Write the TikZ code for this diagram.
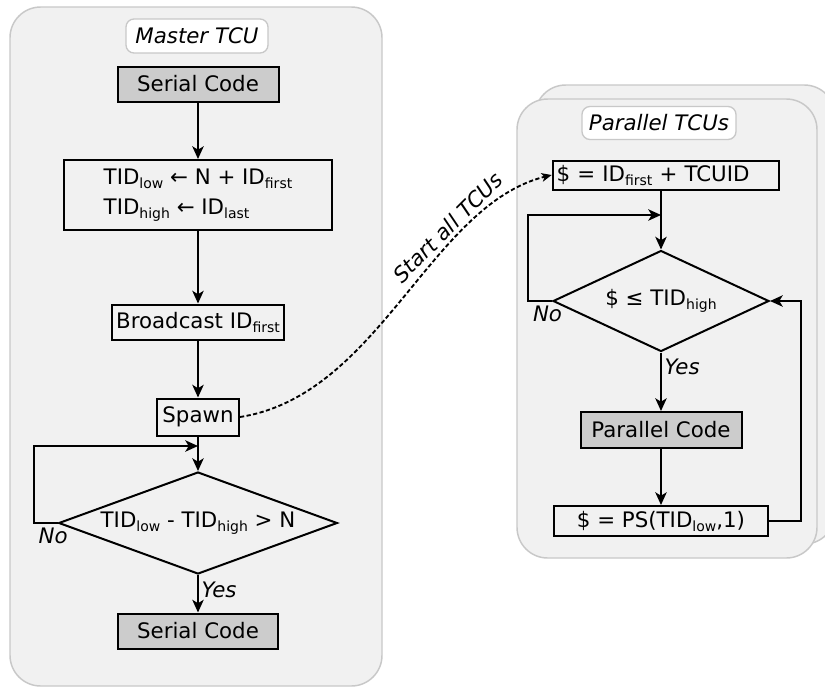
\documentclass[tikz,border=0pt]{standalone}
\usepackage{fontspec}
\setmainfont{DejaVu Sans}
\usetikzlibrary{shapes.geometric,arrows.meta}

\definecolor{panelfill}{RGB}{241,241,241}
\definecolor{panelline}{RGB}{200,200,200}
\definecolor{codefill}{RGB}{204,204,204}
\newcommand{\sbx}[1]{\raisebox{-3pt}{\fontsize{10.5}{12}\selectfont #1}}

\tikzset{
  panel/.style={draw=panelline, fill=panelfill, line width=1.1pt, rounded corners=23pt},
  paneltitle/.style={draw=panelline, fill=white, line width=1pt, rounded corners=6pt, font=\fontsize{16}{22.5}\selectfont\itshape, inner sep=2pt},
  box/.style={draw, line width=1.5pt, fill=panelfill, inner sep=3pt, minimum height=26.25pt},
  codebox/.style={box, fill=codefill},
  decision/.style={draw, line width=1.5pt, diamond, aspect=2.7, inner sep=0pt},
  flow/.style={line width=1.5pt, -{Stealth[length=9.5pt,width=8.5pt,inset=2.5pt]}},
  spawnflow/.style={line width=1.4pt, dash pattern=on 3.2pt off 1.8pt, -{Stealth[length=7.5pt,width=6.5pt,inset=2pt]}},
  tag/.style={font=\fontsize{16}{22.5}\selectfont\itshape, inner sep=2pt}
}

\begin{document}
\begin{tikzpicture}[x=0.75pt,y=0.75pt,yscale=-1,xscale=1,every node/.style={font=\fontsize{16}{22.5}\selectfont}]
\useasboundingbox (0,0) rectangle (825,687);

%Shape: Master panel
\draw[panel] (10,7) rectangle (382,686);
%Shape: Parallel panels, back and front
\draw[panel] (535,85) rectangle (835,544);
\draw[panel] (517,99) rectangle (817,558);

% Text Node
\node[paneltitle, minimum width=106.5pt, minimum height=25.5pt] (mtitle) at (197,36) {Master TCU};
\node[paneltitle, minimum width=115.5pt, minimum height=24.75pt] (ptitle) at (659,123) {Parallel TCUs};

% Master TCU
\node[codebox, minimum width=120.75pt] (serA) at (198,84) {Serial Code};
\node[box, minimum width=201pt, minimum height=52.5pt, align=left] (tid) at (198,195)
  {TID\sbx{low} ← N + ID\sbx{first}\\TID\sbx{high} ← ID\sbx{last}};
\node[box] (bcast) at (198,322) {Broadcast ID\sbx{first}};
\node[box, minimum width=61.5pt, minimum height=27.75pt] (spawn) at (198,417) {Spawn};
\node[decision, minimum width=209pt, minimum height=76.5pt] (test) at (198,523)
  {TID\sbx{low} - TID\sbx{high} > N};
\node[codebox, minimum width=120pt] (serB) at (198,631) {Serial Code};
\coordinate (mjoin) at (198,446);

% Parallel TCUs
\node[box, minimum height=21.75pt, text width=164pt, align=left] (init) at (666,175)
  {\$ = ID\sbx{first} + TCUID};
\node[decision, minimum width=162pt, minimum height=75.75pt] (cond) at (661,301)
  {\$ ≤ TID\sbx{high}};
\node[codebox, minimum width=120.75pt, minimum height=27pt] (pcode) at (661,430) {Parallel Code};
\node[box, minimum width=160.5pt, minimum height=22.5pt] (ps) at (661,521)
  {\$ = PS(TID\sbx{low},1)};
\coordinate (pjoin) at (661,215);

%Straight Lines
\draw[flow] (serA) -- (tid);
\draw[flow] (tid) -- (bcast);
\draw[flow] (bcast) -- (spawn);
\draw[flow] (spawn) -- (test);
\draw[flow] (test) -- node[tag, right, pos=0.4] {Yes} (serB);
\draw[flow] (test.west) -- ++(-24,0) node[tag, anchor=north west, inner sep=3pt] {No} |- (mjoin);

\draw[flow] (cond.north |- init.south) -- (cond.north);
\draw[flow] (cond) -- node[tag, right, pos=0.25] {Yes} (pcode);
\draw[flow] (pcode) -- (ps);
\draw[flow] (cond.west) -- ++(-24,0) node[tag, anchor=north west, inner sep=3pt] {No} |- (pjoin);
\draw[flow] (ps.east) -- ++(32,0) |- (cond.east);

%Curve
\draw[spawnflow] (spawn.east) .. controls (380,395) and (430,205) .. (init.west)
  node[tag, rotate=45, anchor=south, inner sep=3pt, pos=0.7] (start) {Start all TCUs};

\end{tikzpicture}
\end{document}
